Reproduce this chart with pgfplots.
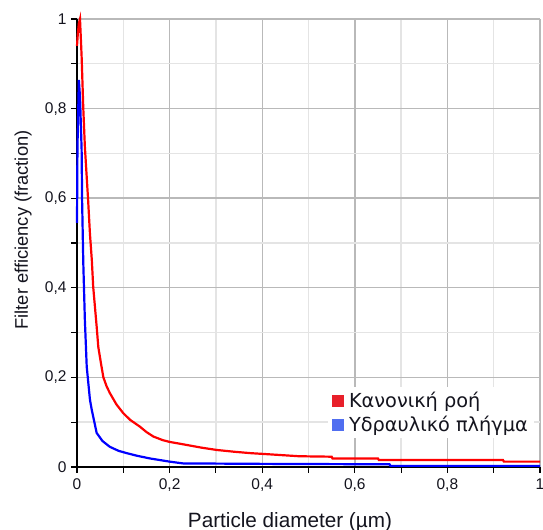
\documentclass[border=0pt]{standalone}
\usepackage{pgfplots}
\pgfplotsset{compat=1.18}
\usepackage{fontspec}
\setmainfont{Liberation Sans}
\newfontfamily\legfont{DejaVu Sans}
\definecolor{majgrid}{RGB}{185,185,185}
\definecolor{mingrid}{RGB}{228,228,228}
\definecolor{legred}{RGB}{232,32,42}
\definecolor{legblue}{RGB}{80,110,240}
\definecolor{txt}{RGB}{20,20,30}
\pgfplotstableread{
x y
0 0.94
0.002 0.97
0.004 0.99
0.0065 1.0
0.010 0.916
0.0136 0.80
0.017 0.715
0.024 0.596
0.028 0.52
0.032 0.462
0.035 0.402
0.0425 0.313
0.046 0.268
0.052 0.23
0.057 0.20
0.064 0.18
0.071 0.165
0.085 0.14
0.100 0.12
0.115 0.105
0.136 0.090
0.150 0.078
0.165 0.068
0.185 0.060
0.200 0.056
0.222 0.052
0.238 0.049
0.270 0.043
0.302 0.038
0.340 0.034
0.374 0.031
0.420 0.028
0.480 0.024
0.550 0.023
0.552 0.019
0.650 0.019
0.652 0.0156
0.920 0.0156
0.922 0.012
1.000 0.012
}\redtab
\pgfplotstableread{
x y
0 0.545
0.001 0.714
0.004 0.864
0.0065 0.826
0.010 0.708
0.011 0.596
0.0136 0.455
0.017 0.328
0.021 0.224
0.028 0.15
0.032 0.127
0.0425 0.076
0.055 0.058
0.071 0.045
0.090 0.036
0.107 0.031
0.130 0.025
0.158 0.019
0.200 0.012
0.229 0.008
0.400 0.007
0.675 0.006
0.677 0.0025
1.000 0.0025
}\bluetab
\begin{document}
\begin{tikzpicture}
\begin{axis}[
  name=ax,
  scale only axis,
  width=463bp, height=448bp,
  xmin=0, xmax=1, ymin=0, ymax=1,
  axis lines*=left,
  axis line style={black, line width=1.3bp},
  xtick={0,0.2,...,1}, ytick={0,0.2,...,1},
  minor x tick num=1, minor y tick num=1,
  tick align=outside,
  major tick length=6bp, minor tick length=6bp,
  tick style={black, line width=1.1bp},
  grid=both,
  major grid style={majgrid, line width=1.4bp},
  minor grid style={mingrid, line width=1.4bp},
  /pgf/number format/use comma,
  /pgf/number format/assume math mode=true,
  ticklabel style={font=\fontsize{15.5bp}{18bp}\selectfont, text=txt},
  xticklabel style={yshift=-2bp},
  yticklabel style={xshift=-1bp},
  xlabel={Particle diameter (µm)},
  ylabel={Filter efficiency (fraction)},
  xlabel style={font=\fontsize{20.7bp}{22bp}\selectfont, text=txt, at={(rel axis cs:0.46,0)}, anchor=base, yshift=-60bp},
  ylabel style={font=\fontsize{18.3bp}{22bp}\selectfont, text=txt, at={(rel axis cs:-0.106,0.529)}, anchor=base},
  legend style={at={(rel axis cs:0.541,0.178)}, anchor=north west, draw=none, fill=white,
    font=\legfont\fontsize{19.3bp}{22bp}\selectfont, text=txt, row sep=3bp,
    inner xsep=4bp, inner ysep=3bp},
  legend cell align=left,
  clip=false,
]
\addplot[red, line width=2.2bp, forget plot] table[x=x,y=y] {\redtab};
\addplot[blue, line width=2.2bp, forget plot] table[x=x,y=y] {\bluetab};
\addlegendimage{legend image code/.code={\fill[legred] (0bp,-5.5bp) rectangle (11bp,5.5bp); \path (15bp,0bp);}}
\addlegendentry{Κανονική ροή}
\addlegendimage{legend image code/.code={\fill[legblue] (0bp,-5.5bp) rectangle (11bp,5.5bp); \path (15bp,0bp);}}
\addlegendentry{Υδραυλικό πλήγμα}
\end{axis}
\pgfresetboundingbox
\path[use as bounding box] ([shift={(-77bp,-63bp)}]ax.south west) rectangle ([shift={(3bp,19bp)}]ax.north east);
\end{tikzpicture}
\end{document}
